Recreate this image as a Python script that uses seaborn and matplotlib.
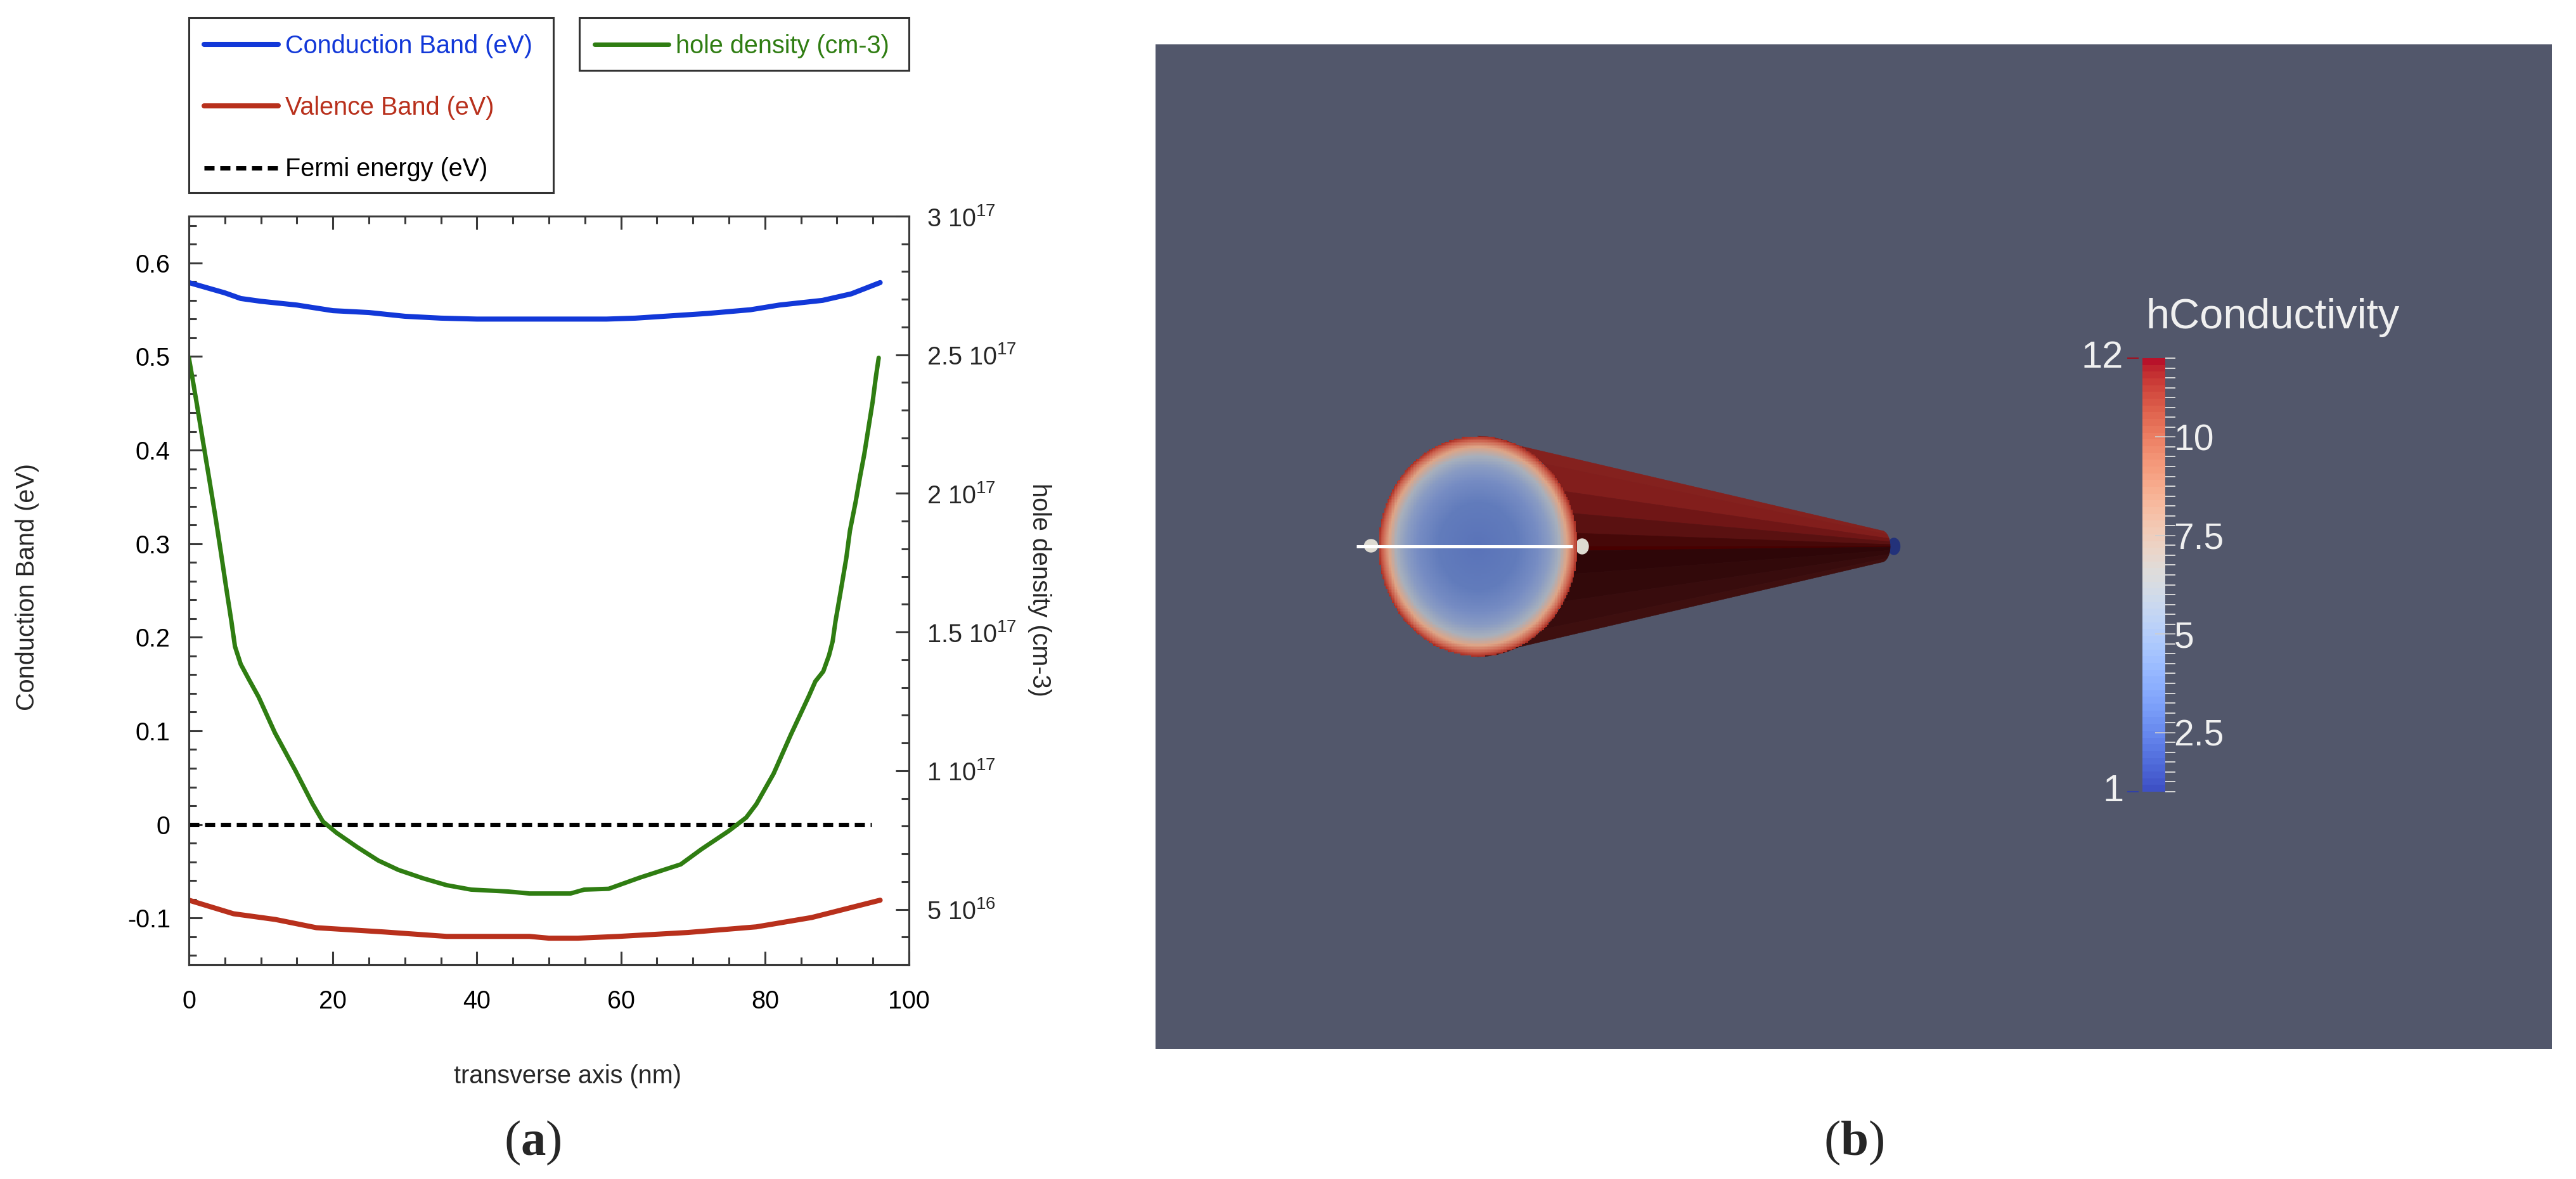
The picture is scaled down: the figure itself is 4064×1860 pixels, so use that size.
import numpy as np
import matplotlib
matplotlib.use("Agg")
import matplotlib.pyplot as plt
import seaborn as sns
from matplotlib.colors import ListedColormap
from matplotlib.patches import Ellipse, Rectangle
from matplotlib.collections import PolyCollection
from matplotlib.ticker import FixedLocator, MultipleLocator, NullFormatter

W, H = 4064, 1860

# panel (a) values
cond_x = [0, 5, 7.2, 10, 15, 20, 25, 30, 35, 40, 50, 58, 62, 68, 72, 78, 82, 88, 92, 96]
cond_y = [0.579, 0.568, 0.562, 0.559, 0.555, 0.549, 0.547, 0.543, 0.541, 0.54, 0.54, 0.54,
          0.541, 0.544, 0.546, 0.55, 0.555, 0.56, 0.567, 0.579]
val_x = [0, 6.2, 12, 17.7, 27.2, 35.8, 47.3, 50, 54, 59.7, 69.3, 78.8, 86.5, 96]
val_y = [-0.081, -0.0955, -0.1016, -0.1104, -0.115, -0.1197, -0.1197, -0.1216, -0.1216,
         -0.1197, -0.1155, -0.1095, -0.0995, -0.081]
fermi_x = [0, 94.8]
fermi_y = [0, 0]
hole_x = [0, 0.47, 1.06, 1.94, 2.82, 3.7, 4.43, 5.22, 5.9, 6.4, 7.2, 8.4, 9.7, 11.94, 14.8,
          17.2, 18.6, 20.5, 23.4, 26.3, 29.1, 32.5, 35.8, 39.2, 44.4, 47.3, 53.0, 54.9, 58.3,
          62.6, 68.3, 71.2, 75, 77.4, 78.8, 81.2, 83.6, 86.1, 87.0, 88.1, 88.9, 89.4, 89.8,
          90.5, 91.3, 91.8, 92.6, 93.2, 93.8, 94.4, 94.95, 95.4, 95.8]
hole_y = [2.489, 2.419, 2.329, 2.19, 2.053, 1.913, 1.79, 1.653, 1.539, 1.448, 1.384, 1.326,
          1.265, 1.137, 1.0, 0.879, 0.817, 0.776, 0.724, 0.676, 0.642, 0.612, 0.587, 0.571,
          0.564, 0.557, 0.557, 0.571, 0.574, 0.614, 0.662, 0.717, 0.783, 0.831, 0.879, 0.989,
          1.13, 1.269, 1.322, 1.358, 1.416, 1.466, 1.539, 1.644, 1.767, 1.865, 1.97, 2.059,
          2.142, 2.24, 2.329, 2.419, 2.489]
left_ticks = [-0.1, 0, 0.1, 0.2, 0.3, 0.4, 0.5, 0.6]
left_labels = ["-0.1", "0", "0.1", "0.2", "0.3", "0.4", "0.5", "0.6"]
right_ticks = [0.5e17, 1e17, 1.5e17, 2e17, 2.5e17, 3e17]
right_labels = ["5 10$^{16}$", "1 10$^{17}$", "1.5 10$^{17}$", "2 10$^{17}$", "2.5 10$^{17}$", "3 10$^{17}$"]

# panel (b) scale and rendered cone, in image pixels
bar_labels = [2.5, 5, 7.5, 10]
bar_label_text = ["2.5", "5", "7.5", "10"]
face_r = [0, 0.4, 0.6, 0.72, 0.82, 0.9, 0.96, 1.0]
face_rgb = [(90, 115, 185), (98, 124, 188), (118, 140, 195), (138, 156, 195), (168, 176, 188),
            (222, 165, 135), (205, 100, 80), (170, 45, 35)]
cone_sin = [-1, -0.75, -0.5, -0.3, -0.12, 0, 0.04, 0.25, 0.5, 0.75, 1]
cone_rgb = [(132, 33, 30), (130, 30, 28), (112, 22, 22), (90, 17, 17), (70, 8, 8), (72, 0, 0),
            (46, 6, 8), (50, 9, 10), (56, 12, 13), (62, 15, 15)]

BLUE = "#1238d8"
RED = "#b8301c"
GREEN = "#2f7d12"
DARK = "#3a3a3a"
PANEL = "#52576b"

sns.set_theme(style="white")
plt.rcParams["font.family"] = ["Liberation Sans", "DejaVu Sans"]
plt.rcParams["mathtext.fontset"] = "custom"
plt.rcParams["mathtext.rm"] = "Liberation Sans"
plt.rcParams["mathtext.bf"] = "Liberation Serif:bold"
plt.rcParams["mathtext.default"] = "regular"
FS = 28.5


def box(x0, y0, x1, y1):
    return [x0 / W, 1 - y1 / H, (x1 - x0) / W, (y1 - y0) / H]


fig = plt.figure(figsize=(W / 100, H / 100), dpi=100, facecolor="white")

# ---- (a) band diagram
ax = fig.add_axes(box(298, 341, 1434, 1522))
sns.lineplot(x=cond_x, y=cond_y, ax=ax, color=BLUE, linewidth=5.8, estimator=None, sort=False,
             label="Conduction Band (eV)", solid_capstyle="round")
sns.lineplot(x=val_x, y=val_y, ax=ax, color=RED, linewidth=5.8, estimator=None, sort=False,
             label="Valence Band (eV)", solid_capstyle="round")
sns.lineplot(x=fermi_x, y=fermi_y, ax=ax, color="black", linewidth=5, estimator=None, sort=False,
             label="Fermi energy (eV)", linestyle=(0, (2.3, 1.3)), dash_capstyle="butt")
ax.set_xlim(0, 100)
ax.set_ylim(-0.15, 0.65)
ax.set_yticks(left_ticks)
ax.set_yticklabels(left_labels)
ax.set_xticks([0, 20, 40, 60, 80, 100])
ax.xaxis.set_minor_locator(MultipleLocator(5))
ax.yaxis.set_minor_locator(MultipleLocator(0.02))
ax.tick_params(axis="both", which="major", direction="in", length=15, width=2.2, color=DARK,
               labelsize=FS, labelcolor="black", top=True, bottom=True, left=True, right=False)
ax.tick_params(axis="both", which="minor", direction="in", length=8.6, width=2.2, color=DARK,
               top=True, bottom=True, left=True, right=False)
ax.tick_params(axis="x", which="major", pad=28)
ax.tick_params(axis="y", which="major", pad=21)
ax.set_xlabel("")
ax.set_ylabel("")

ax2 = ax.twinx()
sns.lineplot(x=hole_x, y=np.array(hole_y) * 1e17, ax=ax2, color=GREEN, linewidth=5, estimator=None,
             sort=False, label="hole density (cm-3)", solid_capstyle="round")
ax2.set_ylim(3e16, 3e17)
ax2.yaxis.set_major_locator(FixedLocator(right_ticks))
ax2.set_yticklabels(right_labels)
ax2.yaxis.set_minor_locator(MultipleLocator(1e16))
ax2.yaxis.set_minor_formatter(NullFormatter())
ax2.tick_params(axis="y", which="major", direction="in", length=15, width=2.2, color=DARK,
                labelsize=FS, pad=20, right=True)
ax2.tick_params(axis="y", which="minor", direction="in", length=8.6, width=2.2, color=DARK, right=True)
ax2.set_ylabel("")
for lab in ax2.get_yticklabels():
    lab.set_verticalalignment("center_baseline")
for a in (ax, ax2):
    for s in a.spines.values():
        s.set_color(DARK)
        s.set_linewidth(2.2)

h1, l1 = ax.get_legend_handles_labels()
h2, l2 = ax2.get_legend_handles_labels()
ax.get_legend().remove()
ax2.get_legend().remove()
leg_kw = dict(loc="upper left", fontsize=FS, frameon=False, handlelength=2.95, handletextpad=0.28,
              borderaxespad=0, borderpad=0.6)
fig.legend(h1, l1, bbox_to_anchor=(298 / W, 1 - 30 / H), labelspacing=1.5,
           labelcolor=[BLUE, RED, "black"], **leg_kw)
fig.legend(h2, l2, bbox_to_anchor=(914 / W, 1 - 30 / H), labelcolor=[GREEN], **leg_kw)
for x0, y0, x1, y1 in [(298, 28, 873, 304), (914, 28, 1434, 111)]:
    fig.add_artist(Rectangle((x0 / W, 1 - y1 / H), (x1 - x0) / W, (y1 - y0) / H, transform=fig.transFigure,
                             fill=False, edgecolor="#333333", linewidth=2.2))

fig.text(896 / W, 1 - 1698 / H, "transverse axis (nm)", ha="center", va="center", fontsize=FS)
fig.text(43 / W, 1 - 926 / H, "Conduction Band (eV)", ha="center", va="center", rotation=90, fontsize=FS)
fig.text(1640 / W, 1 - 930 / H, "hole density (cm-3)", ha="center", va="center", rotation=270, fontsize=FS)
fig.text(840 / W, 1 - 1803 / H, r"($\mathbf{a}$)", ha="center", va="center", fontsize=57, family="Liberation Serif")
fig.text(2925 / W, 1 - 1803 / H, r"($\mathbf{b}$)", ha="center", va="center", fontsize=57, family="Liberation Serif")

# ---- (b) rendered view, axes run in image pixels
axb = fig.add_axes(box(1823, 70, 4026, 1655), facecolor=PANEL)
axb.set_xlim(1823, 4026)
axb.set_ylim(1655, 70)
axb.set_xticks([])
axb.set_yticks([])
for s in axb.spines.values():
    s.set_visible(False)

cx, cy, rx, ry = 2331, 862, 157, 174
tx, trx, try_ = 2968, 14, 25
quads, quad_cols = [], []
for i, col in enumerate(cone_rgb):
    a0, a1 = np.arcsin(cone_sin[i]), np.arcsin(cone_sin[i + 1])
    th = np.linspace(a0, a1, 8)
    base = np.c_[cx + rx * np.cos(th), cy + ry * np.sin(th)]
    tip = np.c_[tx + trx * np.cos(th[::-1]), cy + try_ * np.sin(th[::-1])]
    quads.append(np.vstack([base, tip]))
    quad_cols.append(np.array(col) / 255)
axb.add_collection(PolyCollection(quads, facecolors=quad_cols, edgecolors=quad_cols, linewidths=0.5, zorder=2))

axb.add_patch(Ellipse((2988, 862), 19, 26, color="#23327a", zorder=1.5))
axb.add_patch(Ellipse((2163, 861), 21, 20, color="#dedbd2", zorder=2))
axb.add_patch(Ellipse((2496, 862), 20, 24, color="#dedbd2", zorder=2))

# end face, filled radially
gx, gy = np.meshgrid(np.arange(cx - rx, cx + rx + 1, 2.5), np.arange(cy - ry, cy + ry + 1, 2.5))
r = np.sqrt(((gx - cx) / rx) ** 2 + ((gy - cy) / ry) ** 2)
rgb = np.array(face_rgb) / 255
img = np.dstack([np.interp(r, face_r, rgb[:, k]) for k in range(3)] + [(r <= 1).astype(float)])
axb.imshow(img, extent=(cx - rx, cx + rx, cy + ry, cy - ry), interpolation="nearest", zorder=3, aspect="auto")
axb.set_xlim(1823, 4026)
axb.set_ylim(1655, 70)
axb.plot([2140, 2481], [862, 862], color="white", linewidth=3.6, solid_capstyle="butt", zorder=4)

# colour bar
bar_vals = np.linspace(12, 1, 64).reshape(-1, 1)
axc = fig.add_axes(box(3379.5, 565, 3416, 1249))
sns.heatmap(bar_vals, ax=axc, cmap=ListedColormap(sns.color_palette("coolwarm", 64)), cbar=False,
            xticklabels=False, yticklabels=False, vmin=1, vmax=12)

axs = fig.add_axes(box(3379.5, 565, 3416, 1249), facecolor="none")
axs.set_xlim(0, 1)
axs.set_ylim(1, 12)
axs.set_xticks([])
axs.yaxis.tick_right()
axs.yaxis.set_major_locator(FixedLocator(bar_labels))
axs.set_yticklabels(bar_label_text)
axs.yaxis.set_minor_locator(MultipleLocator(0.25))
axs.tick_params(axis="y", which="major", direction="inout", length=23, width=1.2, color="#cfcfcf",
                labelsize=41, labelcolor="#f0f0f0", pad=-2)
axs.tick_params(axis="y", which="minor", direction="out", length=11.5, width=1.4, color="#d8d8d8")
for s in axs.spines.values():
    s.set_visible(False)
tr = axs.get_yaxis_transform()
axs.hlines(12, -0.64, -0.15, color="#a01020", linewidth=1.5, transform=tr, clip_on=False)
axs.hlines(1, -0.64, -0.15, color="#3040a8", linewidth=1.5, transform=tr, clip_on=False)
axs.text(-0.8, 12, "12", transform=tr, ha="right", va="center", fontsize=43, color="#f0f0f0")
axs.text(-0.8, 1, "1", transform=tr, ha="right", va="center", fontsize=43, color="#f0f0f0")
fig.text(3385 / W, 1 - 518 / H, "hConductivity", ha="left", va="baseline", fontsize=48, color="#f0f0f0")

fig.savefig("out.png", dpi=100)
